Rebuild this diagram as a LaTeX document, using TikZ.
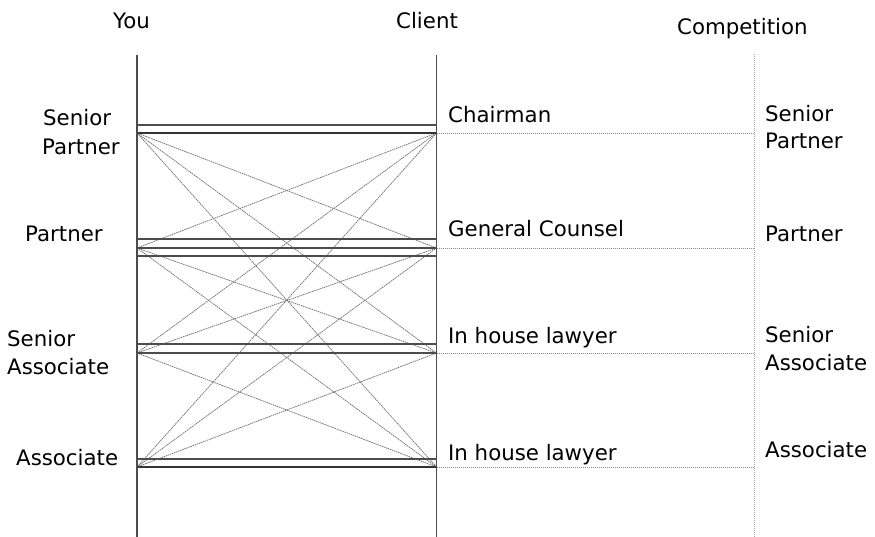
\documentclass[tikz,border=0pt]{standalone}
\usepackage{fontspec}
\setmainfont{DejaVu Sans}
\begin{document}
\begin{tikzpicture}[x=1pt,y=-1pt,
  lbl/.style={anchor=base west, inner sep=0pt, font=\fontsize{21.3}{24}\selectfont, text=black},
  axisline/.style={draw=black!70, line width=1.3pt},
  rung/.style={draw=black!70, line width=1.1pt},
  thickrung/.style={draw=black!80, line width=1.8pt},
  cross/.style={draw=black!55, line width=0.75pt, dash pattern=on 1.5pt off 0.7pt},
  leader/.style={draw=black!45, line width=0.8pt, dash pattern=on 1.2pt off 0.8pt},
  compaxis/.style={draw=black!35, line width=0.9pt, dash pattern=on 1.2pt off 0.8pt}]
\useasboundingbox (0,0) rectangle (875,537);

% axes
\coordinate (youtop) at (137,55);
\coordinate (youbot) at (137,537);
\coordinate (clitop) at (436.5,55);
\coordinate (clibot) at (436.5,537);
\coordinate (comptop) at (754,54);
\coordinate (compbot) at (754,537);

% anchors
\coordinate (L1) at (137,133);
\coordinate (L2) at (137,248);
\coordinate (L3) at (137,353);
\coordinate (L4) at (137,467);
\coordinate (R1) at (436.5,133);
\coordinate (R2) at (436.5,248);
\coordinate (R3) at (436.5,353);
\coordinate (R4) at (436.5,467);
\coordinate (C1) at (754,133);
\coordinate (C2) at (754,248);
\coordinate (C3) at (754,353);
\coordinate (C4) at (754,467);

% diagonals
\foreach \i in {1,2,3,4}{
  \foreach \j in {1,2,3,4}{
    \ifnum\i=\j\else
      \draw[cross] (L\i) -- (R\j);
    \fi
  }
}

% leaders to competition
\foreach \i in {1,2,3,4}{
  \draw[leader] (R\i) -- (C\i);
}

% rungs
\draw[rung] (137,125) -- (436.5,125);
\draw[thickrung] (L1) -- (R1);
\draw[rung] (137,239) -- (436.5,239);
\draw[rung] (L2) -- (R2);
\draw[rung] (137,256) -- (436.5,256);
\draw[rung] (137,344) -- (436.5,344);
\draw[rung] (L3) -- (R3);
\draw[rung] (137,459) -- (436.5,459);
\draw[thickrung] (L4) -- (R4);

% axes on top
\draw[axisline] (youtop) -- (youbot);
\draw[axisline] (clitop) -- (clibot);
\draw[compaxis] (comptop) -- (compbot);

% headings
\node[lbl] (hyou) at (113,29) {You};
\node[lbl] (hcli) at (396,29) {Client};
\node[lbl] (hcomp) at (677,35) {Competition};

% left labels
\node[lbl] (ysp1) at (43,126) {Senior};
\node[lbl] (ysp2) at (42,155) {Partner};
\node[lbl] (yp) at (25,242) {Partner};
\node[lbl] (ysa1) at (7,346) {Senior};
\node[lbl] (ysa2) at (7,374) {Associate};
\node[lbl] (ya) at (16,465) {Associate};

% client labels
\node[lbl] (c1) at (448,123) {Chairman};
\node[lbl] (c2) at (448,237) {General Counsel};
\node[lbl] (c3) at (448,343) {In house lawyer};
\node[lbl] (c4) at (448,460) {In house lawyer};

% competition labels
\node[lbl] (csp1) at (765,122) {Senior};
\node[lbl] (csp2) at (765,149) {Partner};
\node[lbl] (cp) at (765,242) {Partner};
\node[lbl] (csa1) at (765,342) {Senior};
\node[lbl] (csa2) at (765,370) {Associate};
\node[lbl] (ca) at (765,457) {Associate};
\end{tikzpicture}
\end{document}
